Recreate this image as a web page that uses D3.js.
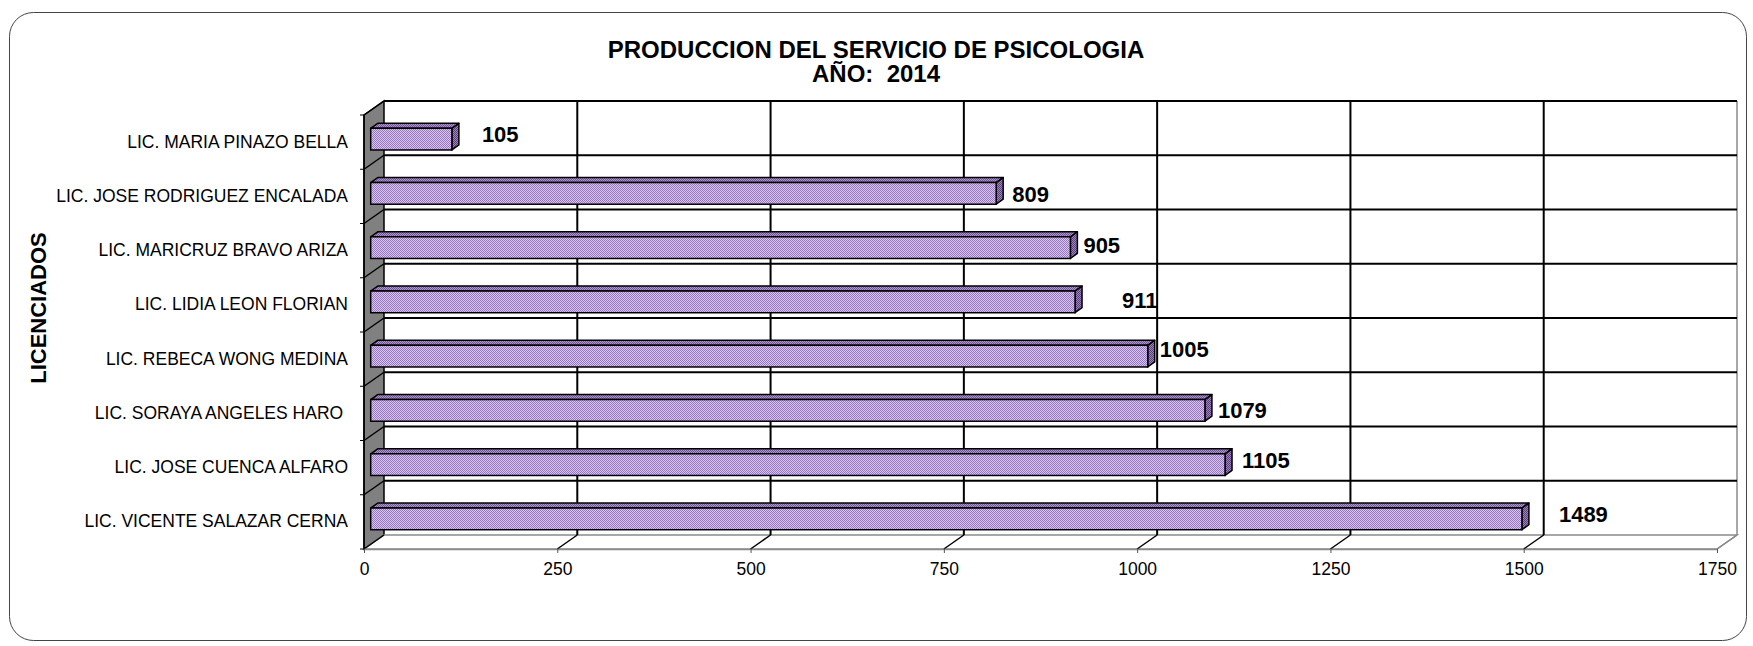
<!DOCTYPE html>
<html>
<head>
<meta charset="utf-8">
<script src="https://cdn.jsdelivr.net/npm/d3@7"></script>
<style>
  body { margin: 0; background: #fff; }
  text { font-family: Arial, "Liberation Sans", sans-serif; }
</style>
</head>
<body>
<svg id="chart"></svg>
<script>
// data, top row first
const names = [
  "LIC. MARIA PINAZO BELLA",
  "LIC. JOSE RODRIGUEZ ENCALADA",
  "LIC. MARICRUZ BRAVO ARIZA",
  "LIC. LIDIA LEON FLORIAN",
  "LIC. REBECA WONG MEDINA",
  "LIC. SORAYA ANGELES HARO ",
  "LIC. JOSE CUENCA ALFARO",
  "LIC. VICENTE SALAZAR CERNA"
];
const values = [105, 809, 905, 911, 1005, 1079, 1105, 1489];
const xTicks = [0, 250, 500, 750, 1000, 1250, 1500, 1750];
const titleLines = ["PRODUCCION DEL SERVICIO DE PSICOLOGIA", "AÑO:  2014"];
const yTitle = "LICENCIADOS";

// the value labels were moved by hand in the original, so nudge them
const labelDx = [30, 16, 13, 47, 12, 13, 17, 37];
const labelDy = [3, 9, 5, 6, 0.5, 8, 3.5, 3];

const W = 1753, H = 646;
const svg = d3.select("#chart").attr("width", W).attr("height", H);

// 3d box: front plane plus a depth offset
const DX = 20, DY = -14;
const x = d3.scaleLinear().domain([0, 1750]).range([364, 1717]);
const y = d3.scaleBand().domain(names).range([115, 549]).paddingInner(0.6).paddingOuter(0.3);
const step = y.step();
const top0 = 115, bot0 = 549;

// outer frame
svg.append("rect")
  .attr("x", 9.5).attr("y", 12.5)
  .attr("width", 1737).attr("height", 628)
  .attr("rx", 24)
  .attr("fill", "#fff").attr("stroke", "#444").attr("stroke-width", 1);

// fill patterns for the bar faces
const defs = svg.append("defs");
function checker(id, dark, light) {
  const p = defs.append("pattern").attr("id", id)
    .attr("width", 2).attr("height", 2).attr("patternUnits", "userSpaceOnUse");
  p.append("rect").attr("width", 2).attr("height", 2).attr("fill", light);
  p.append("rect").attr("width", 1).attr("height", 1).attr("fill", dark);
  p.append("rect").attr("x", 1).attr("y", 1).attr("width", 1).attr("height", 1).attr("fill", dark);
}
checker("pFace", "#9874c6", "#d9c8ef");
checker("pTop", "#6f5296", "#b096d0");
checker("pSide", "#573e78", "#9f84c0");

const g = svg.append("g");
const pts = a => a.map(p => p.join(",")).join(" ");

// left wall
g.append("polygon")
  .attr("points", pts([[x(0), top0], [x(0) + DX, top0 + DY], [x(0) + DX, bot0 + DY], [x(0), bot0]]))
  .attr("fill", "#808080").attr("stroke", "#000").attr("stroke-width", 1.5);

// floor
g.append("polygon")
  .attr("points", pts([[x(0), bot0], [x(0) + DX, bot0 + DY], [x(1750) + DX, bot0 + DY], [x(1750), bot0]]))
  .attr("fill", "#fff").attr("stroke", "#8a8a8a").attr("stroke-width", 1.5);

// back wall right edge
g.append("line")
  .attr("x1", x(1750) + DX).attr("x2", x(1750) + DX)
  .attr("y1", top0 + DY).attr("y2", bot0 + DY)
  .attr("stroke", "#8a8a8a").attr("stroke-width", 1.5);

// category boundaries: diagonal on the wall + horizontal grid on the back wall
const bounds = d3.range(names.length + 1).map(i => top0 + i * step);
bounds.forEach((by, i) => {
  g.append("line")
    .attr("x1", x(0)).attr("y1", by).attr("x2", x(0) + DX).attr("y2", by + DY)
    .attr("stroke", "#000").attr("stroke-width", 1.5);
  if (i < names.length) {
    g.append("line")
      .attr("x1", x(0) + DX).attr("y1", by + DY).attr("x2", x(1750) + DX).attr("y2", by + DY)
      .attr("stroke", "#000").attr("stroke-width", 2);
  }
  g.append("line")
    .attr("x1", x(0) - 4).attr("y1", by).attr("x2", x(0)).attr("y2", by)
    .attr("stroke", "#000").attr("stroke-width", 1);
});

// value grid: diagonal on the floor + vertical on the back wall
xTicks.slice(1).forEach(v => {
  const last = v === 1750;
  g.append("line")
    .attr("x1", x(v)).attr("y1", bot0).attr("x2", x(v) + DX).attr("y2", bot0 + DY)
    .attr("stroke", last ? "#8a8a8a" : "#000").attr("stroke-width", 1.5);
  if (!last) {
    g.append("line")
      .attr("x1", x(v) + DX).attr("y1", top0 + DY).attr("x2", x(v) + DX).attr("y2", bot0 + DY)
      .attr("stroke", "#000").attr("stroke-width", 2);
  }
});

// front left edge
g.append("line")
  .attr("x1", x(0)).attr("x2", x(0)).attr("y1", top0).attr("y2", bot0)
  .attr("stroke", "#000").attr("stroke-width", 1.5);

// x axis along the front edge of the floor
const xAxis = svg.append("g")
  .attr("transform", `translate(0,${bot0})`)
  .call(d3.axisBottom(x).tickValues(xTicks).tickFormat(d3.format("d"))
    .tickSize(4).tickSizeOuter(0).tickPadding(10));
xAxis.select(".domain").attr("stroke", "#8a8a8a").attr("stroke-width", 1.5);
xAxis.selectAll(".tick line").attr("stroke", "#555");
xAxis.selectAll("text")
  .attr("fill", "#000")
  .style("font-size", "17.5px")
  .style("font-family", "Arial, 'Liberation Sans', sans-serif");

// category labels, axisLeft puts them at the band centres
const yAxis = svg.append("g")
  .attr("transform", `translate(${x(0)},0)`)
  .call(d3.axisLeft(y).tickSize(0).tickPadding(16));
yAxis.select(".domain").remove();
yAxis.selectAll("text")
  .attr("fill", "#000")
  .style("white-space", "pre")
  .style("font-size", "17.5px")
  .style("font-family", "Arial, 'Liberation Sans', sans-serif");

// bars (front face sits about a third of the way into the box)
const zF = 0.335, zD = 0.35;
const bx = v => x(v) + zF * DX;
const bh = y.bandwidth();
const bdx = zD * DX, bdy = -5;

const bars = g.selectAll(".bar")
  .data(names.map((n, i) => ({ name: n, value: values[i], i })))
  .join("g").attr("class", "bar");

bars.append("polygon") // top
  .attr("points", d => {
    const y0 = y(d.name) - 3;
    return pts([[bx(0), y0], [bx(0) + bdx, y0 + bdy], [bx(d.value) + bdx, y0 + bdy], [bx(d.value), y0]]);
  })
  .attr("fill", "url(#pTop)").attr("stroke", "#000").attr("stroke-width", 1.5)
  .attr("stroke-linejoin", "round");

bars.append("polygon") // end
  .attr("points", d => {
    const y0 = y(d.name) - 3;
    return pts([[bx(d.value), y0], [bx(d.value) + bdx, y0 + bdy], [bx(d.value) + bdx, y0 + bh + bdy], [bx(d.value), y0 + bh]]);
  })
  .attr("fill", "url(#pSide)").attr("stroke", "#000").attr("stroke-width", 1.5)
  .attr("stroke-linejoin", "round");

bars.append("rect") // front
  .attr("x", bx(0))
  .attr("y", d => y(d.name) - 3)
  .attr("width", d => bx(d.value) - bx(0))
  .attr("height", bh)
  .attr("fill", "url(#pFace)").attr("stroke", "#000").attr("stroke-width", 1.5);

// value labels
bars.append("text")
  .attr("x", d => bx(d.value) + labelDx[d.i])
  .attr("y", d => y(d.name) - 3 + bh / 2 + labelDy[d.i])
  .style("font-size", "22px").style("font-weight", "bold")
  .text(d => d.value);

// title
svg.append("text")
  .attr("x", 876).attr("y", 58)
  .attr("text-anchor", "middle")
  .style("font-size", "24px").style("font-weight", "bold")
  .text(titleLines[0]);
svg.append("text")
  .attr("x", 876).attr("y", 82)
  .attr("text-anchor", "middle")
  .style("font-size", "24px").style("font-weight", "bold")
  .style("white-space", "pre")
  .text(titleLines[1]);

// y axis title
svg.append("text")
  .attr("transform", "translate(46,308) rotate(-90)")
  .attr("text-anchor", "middle")
  .style("font-size", "22px").style("font-weight", "bold")
  .text(yTitle);
</script>
</body>
</html>
